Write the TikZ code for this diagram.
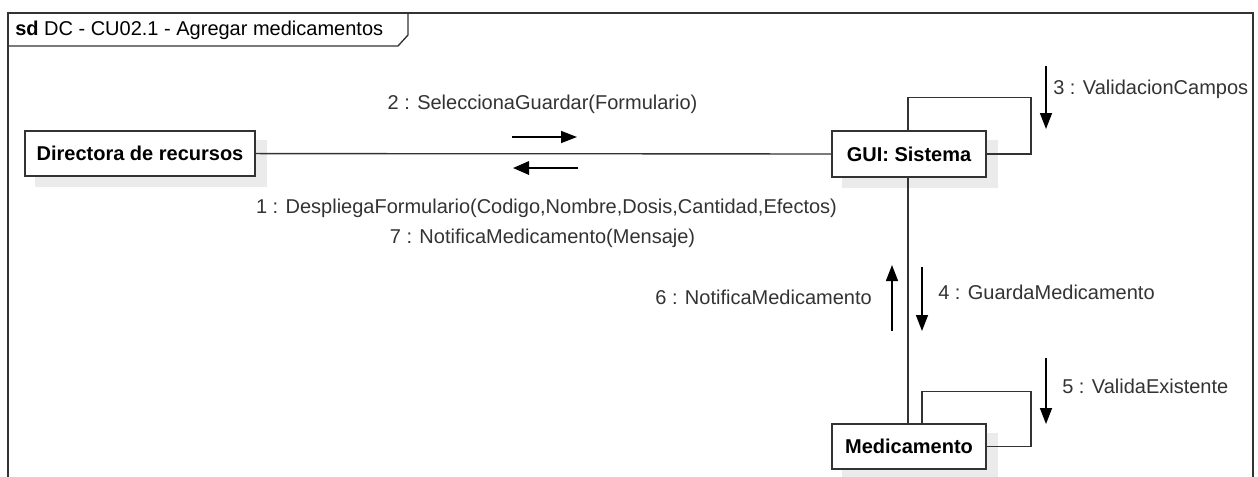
\documentclass[tikz,border=0pt]{standalone}
\usepackage{fontspec}
\setmainfont{Liberation Sans}
\usetikzlibrary{arrows.meta,calc,backgrounds}
\definecolor{ln}{HTML}{333333}
\definecolor{tx}{HTML}{333333}
\definecolor{shd}{HTML}{EBEBEB}
\begin{document}
\begin{tikzpicture}[x=0.75pt,y=-0.75pt,
  every node/.style={font=\fontsize{15pt}{18pt}\selectfont},
  obj/.style={draw=ln,line width=1pt,fill=white,inner sep=0pt,
    font=\fontsize{15pt}{18pt}\selectfont\bfseries,text=black},
  shadowbox/.style={fill=shd},
  link/.style={draw=ln,line width=1pt},
  msg/.style={draw=black,line width=1.1pt,-{Triangle[length=12pt,width=9pt]}},
  msgb/.style={draw=black,line width=1.6pt,-{Triangle[length=12pt,width=10pt]}},
  lbl/.style={text=tx,inner sep=0pt}]
\useasboundingbox (0,0) rectangle (1258,476);
% frame
\draw[ln,line width=1pt] (8,480) -- (8,13) -- (1253,13) -- (1253,480);
\draw[ln,line width=1pt] (8,46) -- (398,46) -- (408,35) -- (408,13);
\node[lbl,anchor=west,text=black] (title) at (15,30) {\textbf{sd}\ DC - CU02.1 - Agregar medicamentos};
% objects
\node[obj,minimum width=230*0.75pt,minimum height=45*0.75pt] (dir) at (140,153.5) {Directora de recursos};
\node[obj,minimum width=154*0.75pt,minimum height=46*0.75pt] (gui) at (909,154) {GUI: Sistema};
\node[obj,minimum width=154*0.75pt,minimum height=45*0.75pt] (med) at (909,446.5) {Medicamento};
% shadows and links
\begin{scope}[on background layer]
\fill[white] (0,0) rectangle (1258,476);
\foreach \o in {dir,gui,med}
  \fill[shadowbox] ($(\o.north west)+(11,10)$) rectangle ($(\o.south east)+(11,10)$);
\draw[link] (dir) -- (gui);
\draw[link] ($(gui.south)+(-1,0)$) -- ($(med.north)+(-1,0)$);
\draw[link] ($(gui.north)+(-1,0)$) -- ++(0,-33) -- ++(123,0) |- (gui.east);
\draw[link] ($(med.north)+(13,0)$) -- ++(0,-32) -- ++(109,0) |- (med.east);
\end{scope}
% messages
\coordinate (m2a) at (512,137); \coordinate (m2b) at (577,137);
\draw[msg] (m2a) -- (m2b);
\coordinate (m1a) at (578,168); \coordinate (m1b) at (513,168);
\draw[msgb] (m1a) -- (m1b);
\coordinate (m3a) at (1046,66); \coordinate (m3b) at (1046,129);
\draw[msg] (m3a) -- (m3b);
\coordinate (m4a) at (922,267); \coordinate (m4b) at (922,331);
\draw[msg] (m4a) -- (m4b);
\coordinate (m6a) at (892,331); \coordinate (m6b) at (892,265);
\draw[msg] (m6a) -- (m6b);
\coordinate (m5a) at (1046,358); \coordinate (m5b) at (1046,424);
\draw[msg] (m5a) -- (m5b);
% labels
\node[lbl] (l2) at (542.5,104) {2 : SeleccionaGuardar(Formulario)};
\node[lbl] (l1) at (546.5,208) {1 : DespliegaFormulario(Codigo,Nombre,Dosis,Cantidad,Efectos)};
\node[lbl] (l7) at (542.5,238) {7 : NotificaMedicamento(Mensaje)};
\node[lbl,anchor=west] (l3) at (1053,89) {3 : ValidacionCampos};
\node[lbl,anchor=west] (l4) at (938,292) {4 : GuardaMedicamento};
\node[lbl,anchor=east] (l6) at (872,297) {6 : NotificaMedicamento};
\node[lbl,anchor=west] (l5) at (1062,386) {5 : ValidaExistente};
\end{tikzpicture}
\end{document}
